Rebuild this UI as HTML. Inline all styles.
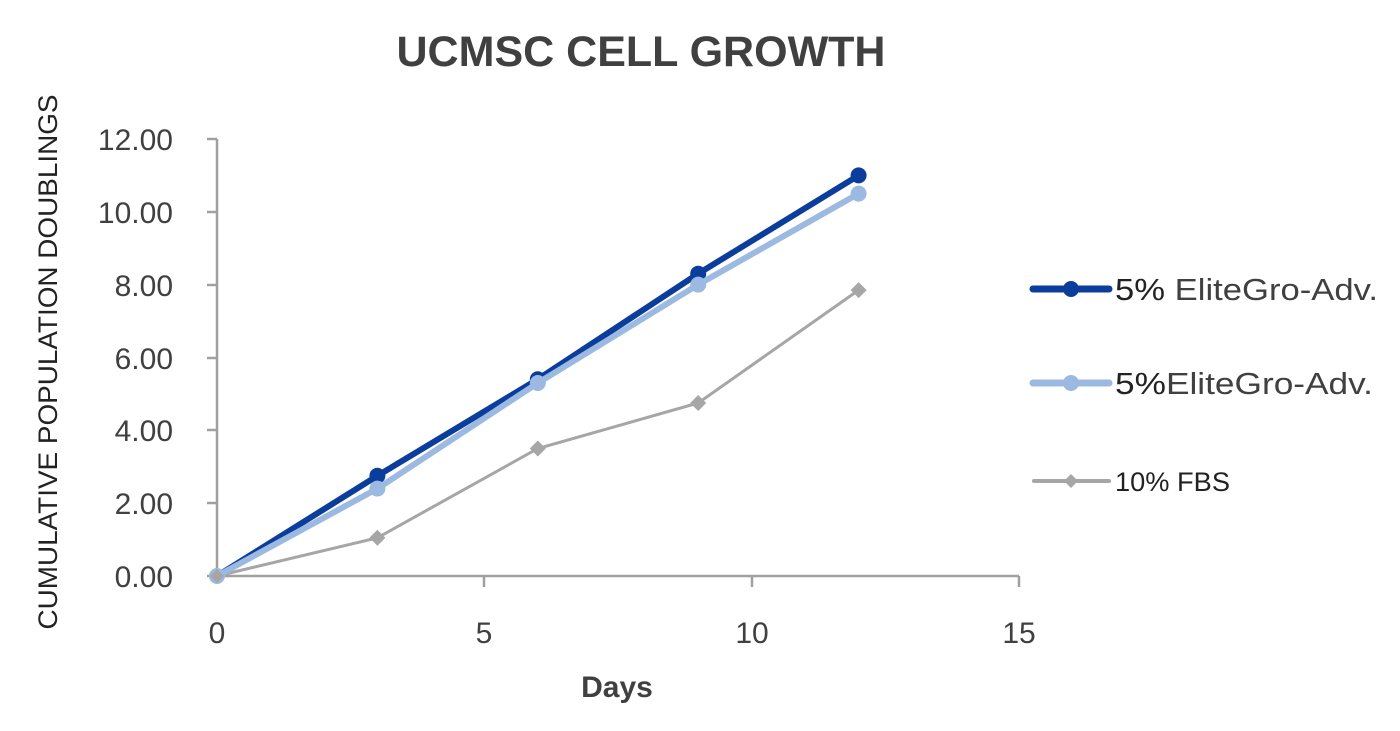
<!DOCTYPE html>
<html><head><meta charset="utf-8"><style>
body{margin:0;background:#fff;}
svg text{font-family:"Liberation Sans",Arial,sans-serif;}
</style></head><body>
<svg width="1400" height="726" viewBox="0 0 1400 726" xmlns="http://www.w3.org/2000/svg">
<rect width="1400" height="726" fill="#fff"/>
<text x="641" y="66" text-anchor="middle" font-size="43" font-weight="bold" fill="#404040" textLength="489" lengthAdjust="spacingAndGlyphs">UCMSC CELL GROWTH</text>
<g stroke="#a0a0a0" stroke-width="2.5" fill="none">
<line x1="217" y1="139" x2="217" y2="577"/>
<line x1="216" y1="576" x2="1019" y2="576"/>
<line x1="207" y1="139" x2="217" y2="139"/>
<line x1="207" y1="212" x2="217" y2="212"/>
<line x1="207" y1="285" x2="217" y2="285"/>
<line x1="207" y1="358" x2="217" y2="358"/>
<line x1="207" y1="430" x2="217" y2="430"/>
<line x1="207" y1="503" x2="217" y2="503"/>
<line x1="207" y1="576" x2="217" y2="576"/>
<line x1="484" y1="576" x2="484" y2="587"/>
<line x1="752" y1="576" x2="752" y2="587"/>
<line x1="1019" y1="576" x2="1019" y2="587"/>
</g>
<g font-size="30" fill="#404040" text-anchor="end">
<text x="173" y="150">12.00</text>
<text x="173" y="223">10.00</text>
<text x="173" y="296">8.00</text>
<text x="173" y="369">6.00</text>
<text x="173" y="441">4.00</text>
<text x="173" y="514">2.00</text>
<text x="173" y="587">0.00</text>
</g>
<g font-size="30" fill="#404040" text-anchor="middle">
<text x="217" y="643">0</text>
<text x="484" y="643">5</text>
<text x="752" y="643">10</text>
<text x="1019" y="643">15</text>
</g>
<text x="617" y="697" text-anchor="middle" font-size="30" font-weight="bold" fill="#404040">Days</text>
<text transform="translate(57,362) rotate(-90)" text-anchor="middle" font-size="27" fill="#222" textLength="535" lengthAdjust="spacingAndGlyphs">CUMULATIVE POPULATION DOUBLINGS</text>
<polyline points="217,576 377.4,537.8 537.8,448.5 698.2,403 858.6,290.1" fill="none" stroke="#a6a6a6" stroke-width="3"/>
<g fill="#a6a6a6">
<polygon points="217,568 225,576 217,584 209,576"/>
<polygon points="377.4,529.8 385.4,537.8 377.4,545.8 369.4,537.8"/>
<polygon points="537.8,440.5 545.8,448.5 537.8,456.5 529.8,448.5"/>
<polygon points="698.2,395 706.2,403 698.2,411 690.2,403"/>
<polygon points="858.6,282.1 866.6,290.1 858.6,298.1 850.6,290.1"/>
</g>
<polyline points="217,576 377.4,475.8 537.8,379.3 698.2,273.7 858.6,175.4" fill="none" stroke="#0b3d9c" stroke-width="6"/>
<g fill="#0b3d9c">
<circle cx="377.4" cy="475.8" r="8"/><circle cx="537.8" cy="379.3" r="8"/><circle cx="698.2" cy="273.7" r="8"/><circle cx="858.6" cy="175.4" r="8"/>
</g>
<polyline points="217,576 377.4,488.6 537.8,383 698.2,284.6 858.6,193.6" fill="none" stroke="#9cb9e1" stroke-width="6"/>
<g fill="#9cb9e1">
<circle cx="217" cy="576" r="8"/><circle cx="377.4" cy="488.6" r="8"/><circle cx="537.8" cy="383" r="8"/><circle cx="698.2" cy="284.6" r="8"/><circle cx="858.6" cy="193.6" r="8"/>
</g>
<polygon points="217,569 224,576 217,583 210,576" fill="#a6a6a6"/>
<line x1="1033" y1="289" x2="1109" y2="289" stroke="#0b3d9c" stroke-width="7" stroke-linecap="round"/>
<circle cx="1071" cy="289" r="8" fill="#0b3d9c"/>
<text x="1115" y="300" font-size="31" fill="#222" textLength="263" lengthAdjust="spacingAndGlyphs">5% <tspan fill="#404040">EliteGro-Adv.</tspan></text>
<line x1="1033" y1="383" x2="1109" y2="383" stroke="#9cb9e1" stroke-width="7" stroke-linecap="round"/>
<circle cx="1071" cy="383" r="8" fill="#9cb9e1"/>
<text x="1115" y="394" font-size="31" fill="#222" textLength="258" lengthAdjust="spacingAndGlyphs">5%<tspan fill="#404040">EliteGro-Adv.</tspan></text>
<line x1="1034" y1="481" x2="1109" y2="481" stroke="#a6a6a6" stroke-width="4" stroke-linecap="round"/>
<polygon points="1071,474 1078,481 1071,488 1064,481" fill="#a6a6a6"/>
<text x="1115" y="491" font-size="27" fill="#222" textLength="115" lengthAdjust="spacingAndGlyphs">10% FBS</text>
</svg>
</body></html>
